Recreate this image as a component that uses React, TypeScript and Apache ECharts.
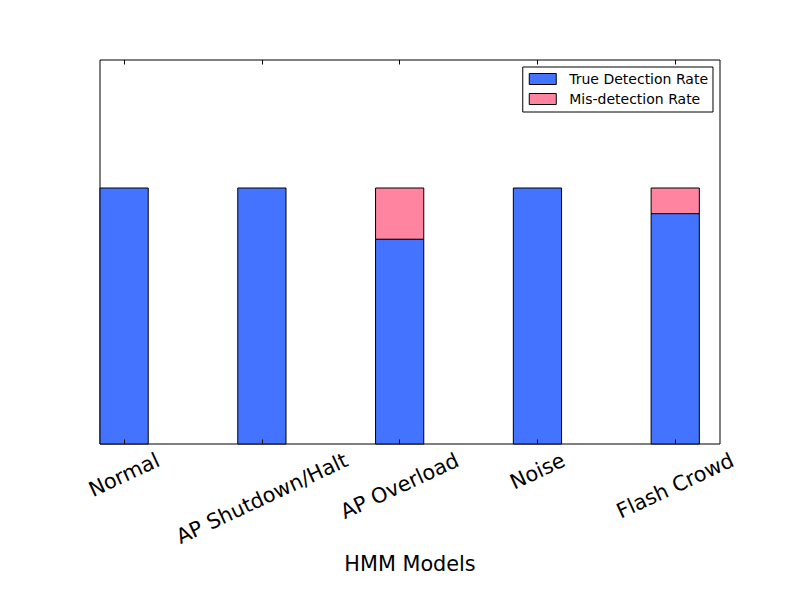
import React, { useEffect, useRef } from "react";
import * as echarts from "echarts";

const categories = ["Normal", "AP Shutdown/Halt", "AP Overload", "Noise", "Flash Crowd"];
const trueDetection = [1.0, 1.0, 0.8, 1.0, 0.9];
const misDetection = [0.0, 0.0, 0.2, 0.0, 0.1];
const tickPositions = [0, 1, 2, 3, 4];
const seriesNames = ["True Detection Rate", "Mis-detection Rate"];

const BLUE = "#4474ff";
const PINK = "#ff84a0";
const FONT = "DejaVu Sans";
const BAR_W = 0.35;
const ROT = 25;
const LABEL_SIZE = 20.8;

function measure(text: string, size: number): number {
  const ctx = document.createElement("canvas").getContext("2d");
  if (!ctx) return text.length * size * 0.6;
  ctx.font = `${size}px "${FONT}"`;
  return ctx.measureText(text).width;
}

export default function App() {
  const ref = useRef<HTMLDivElement>(null);
  useEffect(() => {
    if (!ref.current) return;
    const chart = echarts.init(ref.current, null, { renderer: "svg" });
    const s = Math.sin((ROT * Math.PI) / 180);
    const c = Math.cos((ROT * Math.PI) / 180);
    const rich: Record<string, any> = {};
    categories.forEach((name, i) => {
      const d = (measure(name, LABEL_SIZE) * s) / 2;
      rich["l" + i] = {
        fontSize: LABEL_SIZE,
        fontFamily: FONT,
        color: "#000",
        padding: [2 * d * c, 2 * d * s, 0, 0],
      };
    });

    const renderBar = (params: any, api: any) => {
      const x = api.value(0);
      const y0 = api.value(1);
      const y1 = api.value(2);
      if (!(y1 - y0 > 0)) return { type: "group", children: [] };
      const p0 = api.coord([x - BAR_W / 2, y1]);
      const p1 = api.coord([x + BAR_W / 2, y0]);
      return {
        type: "rect",
        shape: { x: p0[0], y: p0[1], width: p1[0] - p0[0], height: p1[1] - p0[1] },
        style: { fill: api.visual("color"), stroke: "#000", lineWidth: 1 },
      };
    };

    const trueData = tickPositions.map((x, i) => [x, 0, trueDetection[i]]);
    const misData = tickPositions.map((x, i) => [
      x,
      trueDetection[i],
      trueDetection[i] + misDetection[i],
    ]);

    chart.setOption({
      animation: false,
      backgroundColor: "#fff",
      grid: {
        left: 100,
        right: 80,
        top: 60,
        height: 384,
        show: true,
        borderColor: "#000",
        borderWidth: 1,
        backgroundColor: "transparent",
      },
      legend: {
        orient: "vertical",
        right: 87,
        top: 67,
        itemWidth: 27,
        itemHeight: 11,
        itemGap: 6,
        padding: [5, 5, 6, 6],
        borderColor: "#000",
        borderWidth: 1,
        borderRadius: 0,
        backgroundColor: "#fff",
        selectedMode: false,
        textStyle: { fontSize: 14, fontFamily: FONT, color: "#000", padding: [0, 0, 0, 8] },
        data: [
          { name: seriesNames[0], icon: "rect", itemStyle: { color: BLUE, borderColor: "#000", borderWidth: 1 } },
          { name: seriesNames[1], icon: "rect", itemStyle: { color: PINK, borderColor: "#000", borderWidth: 1 } },
        ],
      },
      xAxis: [
        {
          type: "value",
          position: "bottom",
          min: -BAR_W / 2,
          max: 4.5 - BAR_W / 2,
          z: 10,
          splitLine: { show: false },
          axisLine: { show: false },
          axisTick: {
            show: true,
            inside: true,
            length: 4.5,
            lineStyle: { color: "#000", width: 1 },
            customValues: tickPositions,
          },
          axisLabel: {
            show: true,
            customValues: tickPositions,
            rotate: ROT,
            align: "center",
            verticalAlign: "middle",
            margin: 15,
            fontSize: LABEL_SIZE,
            fontFamily: FONT,
            color: "#000",
            formatter: (v: number) => {
              const i = Math.round(v);
              return `{l${i}|${categories[i]}}`;
            },
            rich,
          },
          name: "HMM Models",
          nameLocation: "middle",
          nameGap: 118,
          nameTextStyle: { fontSize: LABEL_SIZE, fontFamily: FONT, color: "#000", verticalAlign: "middle" },
        },
        {
          type: "value",
          position: "top",
          min: -BAR_W / 2,
          max: 4.5 - BAR_W / 2,
          z: 10,
          splitLine: { show: false },
          axisLine: { show: false },
          axisLabel: { show: false },
          axisTick: {
            show: true,
            inside: true,
            length: 4.5,
            lineStyle: { color: "#000", width: 1 },
            customValues: tickPositions,
          },
        },
      ],
      yAxis: {
        type: "value",
        min: 0,
        max: 1.5,
        axisLine: { show: false },
        axisTick: { show: false },
        axisLabel: { show: false },
        splitLine: { show: false },
      },
      series: [
        {
          name: seriesNames[0],
          type: "custom",
          xAxisIndex: 0,
          itemStyle: { color: BLUE, borderColor: "#000", borderWidth: 1 },
          encode: { x: 0, y: 2 },
          renderItem: renderBar,
          data: trueData,
        },
        {
          name: seriesNames[1],
          type: "custom",
          xAxisIndex: 0,
          itemStyle: { color: PINK, borderColor: "#000", borderWidth: 1 },
          encode: { x: 0, y: 2 },
          renderItem: renderBar,
          data: misData,
        },
      ],
    });
    return () => chart.dispose();
  }, []);
  return (
    <div
      ref={ref}
      style={{ position: "fixed", left: 0, top: 0, width: 800, height: 600 }}
    />
  );
}
